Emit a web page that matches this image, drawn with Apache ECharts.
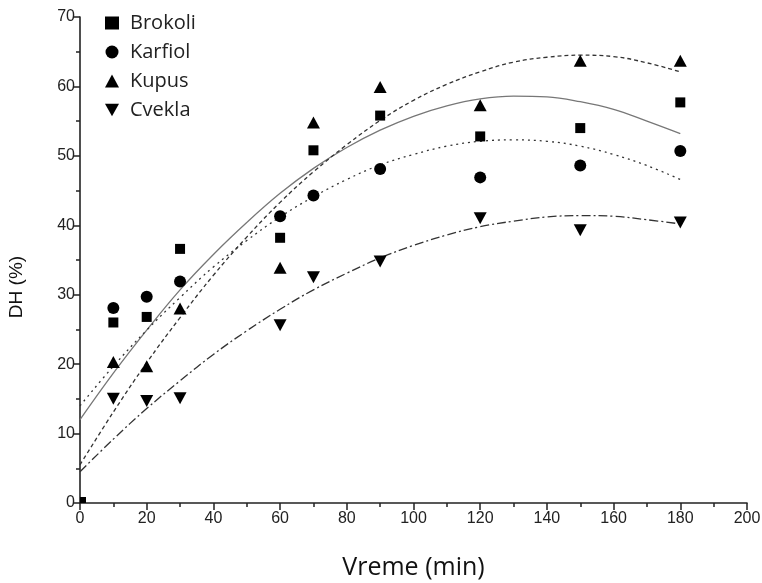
<!DOCTYPE html>
<html>
<head>
<meta charset="utf-8">
<script src="https://cdn.jsdelivr.net/npm/echarts@6/dist/echarts.min.js"></script>
<style>
html, body { margin: 0; padding: 0; background: #fff; }
#main { width: 762px; height: 583px; }
</style>
</head>
<body>
<div id="main"></div>
<script>
// izmereni podaci (vreme u min, DH u %)
var vreme = [0, 10, 20, 30, 60, 70, 90, 120, 150, 180];
var brokoli = [0, 26.0, 26.8, 36.6, 38.2, 50.8, 55.8, 52.8, 54.0, 57.7];
var karfiol = [0, 28.1, 29.7, 31.9, 41.3, 44.3, 48.1, 46.9, 48.6, 50.7];
var kupus = [null, 20.3, 19.7, 28.0, 33.9, 54.8, 59.9, 57.3, 63.7, 63.7];
var cvekla = [null, 15.0, 14.7, 15.1, 25.6, 32.5, 34.8, 41.0, 39.3, 40.4];

// fitovane krive ocitane sa slike, na svakih 10 min
var fitX = [0, 10, 20, 30, 40, 50, 60, 70, 80, 90, 100, 110, 120, 130, 140, 150, 160, 170, 180];
var fitBrokoli = [12.0, 18.7, 24.9, 30.7, 35.8, 40.4, 44.6, 48.2, 51.2, 53.7, 55.7, 57.2, 58.2, 58.6, 58.5, 57.8, 56.7, 55.0, 53.2];
var fitKarfiol = [14.0, 19.7, 24.9, 29.6, 34.0, 37.8, 41.2, 44.1, 46.6, 48.7, 50.2, 51.4, 52.1, 52.3, 52.1, 51.4, 50.2, 48.6, 46.6];
var fitKupus = [5.5, 13.1, 20.2, 26.7, 32.8, 38.3, 43.3, 47.7, 51.6, 55.1, 58.0, 60.3, 62.1, 63.5, 64.2, 64.5, 64.3, 63.4, 62.1];
var fitCvekla = [4.5, 9.2, 13.6, 17.6, 21.4, 24.8, 27.9, 30.7, 33.1, 35.3, 37.1, 38.6, 39.8, 40.6, 41.2, 41.4, 41.3, 40.8, 40.2];

var nazivi = ['Brokoli', 'Karfiol', 'Kupus', 'Cvekla'];

function parovi(xs, ys) {
    var out = [];
    for (var i = 0; i < xs.length; i++) {
        if (ys[i] === null) continue;
        out.push([xs[i], ys[i]]);
    }
    return out;
}

function tackeSaPocetkom(xs, ys) {
    var out = parovi(xs, ys);
    for (var i = 0; i < out.length; i++) {
        if (out[i][0] === 0 && out[i][1] === 0) {
            // tacka u koordinatnom pocetku je vecim delom skrivena iza osa
            out[i] = { value: out[i], symbolSize: 6, symbolOffset: [3, -3] };
        }
    }
    return out;
}

var chart = echarts.init(document.getElementById('main'));

function kriva(ys, type, color) {
    return {
        type: 'line',
        data: parovi(fitX, ys),
        smooth: 0.4,
        showSymbol: false,
        silent: true,
        z: 1,
        lineStyle: { color: color, width: 1.3, type: type }
    };
}

function tacke(name, ys, symbol, size) {
    return {
        name: name,
        type: 'scatter',
        data: tackeSaPocetkom(vreme, ys),
        symbol: symbol,
        symbolSize: size,
        z: 3,
        itemStyle: { color: '#000', opacity: 1 }
    };
}

var osaLabel = { fontFamily: 'Liberation Sans', fontSize: 16, color: '#222' };

var option = {
    animation: false,
    backgroundColor: '#fff',
    grid: { left: 80, right: 15, top: 17, bottom: 80, outerBoundsMode: 'none', containLabel: false },
    legend: {
        data: nazivi,
        orient: 'vertical',
        left: 100,
        top: 8,
        itemGap: 9,
        itemWidth: 14,
        itemHeight: 13,
        textStyle: { fontFamily: 'Open Sans', fontSize: 20, color: '#222', padding: [0, 0, 0, 6] }
    },
    xAxis: {
        type: 'value',
        min: 0,
        max: 200,
        interval: 20,
        name: 'Vreme (min)',
        nameLocation: 'middle',
        nameGap: 52,
        nameTextStyle: { fontFamily: 'Open Sans', fontSize: 25, color: '#111' },
        axisLine: { show: true, lineStyle: { color: '#222', width: 1.6 } },
        axisTick: { show: true, length: 7, lineStyle: { color: '#222', width: 1.5 } },
        minorTick: { show: true, splitNumber: 2, length: 4, lineStyle: { color: '#222', width: 1.5 } },
        axisLabel: Object.assign({ margin: 8 }, osaLabel),
        splitLine: { show: false }
    },
    yAxis: {
        type: 'value',
        min: 0,
        max: 70,
        interval: 10,
        name: 'DH (%)',
        nameLocation: 'middle',
        nameGap: 54,
        nameTextStyle: { fontFamily: 'Liberation Sans', fontSize: 19, color: '#111', padding: [0, 54, 0, 0] },
        axisLine: { show: true, lineStyle: { color: '#222', width: 1.6 } },
        axisTick: { show: true, length: 6, lineStyle: { color: '#222', width: 1.5 } },
        minorTick: { show: true, splitNumber: 2, length: 4, lineStyle: { color: '#222', width: 1.5 } },
        axisLabel: Object.assign({ margin: 5 }, osaLabel),
        splitLine: { show: false }
    },
    series: [
        kriva(fitBrokoli, 'solid', '#777'),
        kriva(fitKarfiol, [2, 4], '#333'),
        kriva(fitKupus, [4, 3], '#333'),
        kriva(fitCvekla, [9, 3, 2, 3], '#333'),
        tacke('Brokoli', brokoli, 'rect', 10),
        tacke('Karfiol', karfiol, 'circle', 12),
        tacke('Kupus', kupus, 'triangle', [13, 12]),
        tacke('Cvekla', cvekla, 'path://M0,0 L10,0 L5,9 Z', [13, 12])
    ]
};

chart.setOption(option);
</script>
</body>
</html>
